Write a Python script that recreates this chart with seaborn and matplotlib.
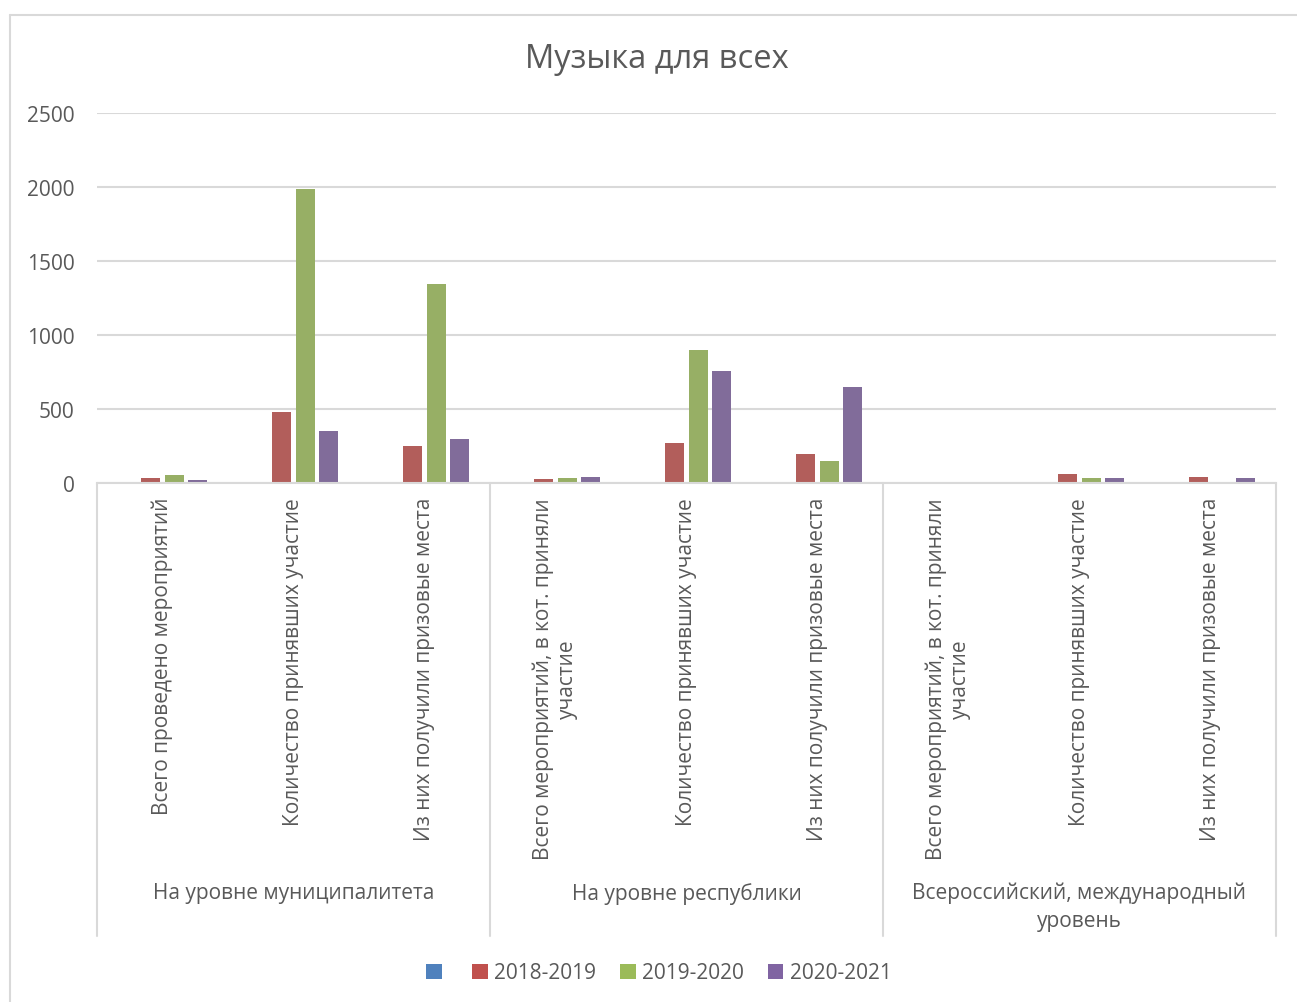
import pandas as pd
import seaborn as sns
import matplotlib.pyplot as plt
from matplotlib.patches import Patch
from matplotlib.lines import Line2D
from matplotlib import transforms

# data
categories = [
    "Всего проведено мероприятий",
    "Количество принявших участие",
    "Из них получили призовые места",
    "Всего мероприятий, в кот. приняли\nучастие",
    "Количество принявших участие",
    "Из них получили призовые места",
    "Всего мероприятий, в кот. приняли\nучастие",
    "Количество принявших участие",
    "Из них получили призовые места",
]
groups = ["На уровне муниципалитета", "На уровне республики",
          "Всероссийский, международный\nуровень"]
series = ["", "2018-2019", "2019-2020", "2020-2021"]
colors = ["#4F81BD", "#C0504D", "#9BBB59", "#8064A2"]

blank = [0, 0, 0, 0, 0, 0, 0, 0, 0]
v_2018 = [32, 482, 252, 28, 268, 198, 2, 60, 41]
v_2019 = [56, 1988, 1345, 32, 902, 148, 0, 37, 1]
v_2020 = [22, 349, 300, 43, 760, 652, 8, 37, 32]

rows = []
for s, vals in zip(series, [blank, v_2018, v_2019, v_2020]):
    for i, v in enumerate(vals):
        rows.append({"pos": i, "series": s if s else "blank", "value": v})
df = pd.DataFrame(rows)
hue_names = [s if s else "blank" for s in series]

sns.set_theme(style="white")
plt.rcParams["font.family"] = ["Open Sans", "DejaVu Sans"]
txt = "#595959"
grid = "#d9d9d9"

fig = plt.figure(figsize=(12.97, 10.03), dpi=100)
ax = fig.add_axes([97 / 1297, 1 - 484 / 1003, (1276 - 97) / 1297, (484 - 114) / 1003])

sns.barplot(data=df, x="pos", y="value", hue="series", hue_order=hue_names,
            palette=colors, width=0.72, gap=0.19, linewidth=0,
            legend=False, ax=ax)

ax.set_ylim(0, 2500)
ax.set_xlim(-0.5, 8.5)
ax.set_yticks([0, 500, 1000, 1500, 2000, 2500])
ax.yaxis.grid(True, color=grid, linewidth=1.5)
ax.set_axisbelow(True)
for side in ["top", "right", "left"]:
    ax.spines[side].set_visible(False)
ax.spines["bottom"].set_color(grid)
ax.spines["bottom"].set_linewidth(1.5)
ax.set_xlabel("")
ax.set_ylabel("")
ax.tick_params(axis="y", length=0, labelsize=15, labelcolor=txt, pad=16)
ax.tick_params(axis="x", length=0, pad=10)
ax.set_xticks(range(len(categories)))
ax.set_xticklabels(categories, rotation=90, fontsize=15, color=txt,
                   va="top", ha="center", multialignment="center")

# group separators and group labels
tr = transforms.blended_transform_factory(ax.transData, fig.transFigure)
y_bot = 1 - 937 / 1003
y_ax = 1 - 484 / 1003
for x in [-0.5, 2.5, 5.5, 8.5]:
    ax.add_line(Line2D([x, x], [y_ax, y_bot], transform=tr, color=grid,
                       linewidth=1.5, clip_on=False))
for gi, g in enumerate(groups):
    ax.text(gi * 3 + 1, 1 - 883 / 1003, g, transform=tr, ha="center", va="top",
            fontsize=15, color=txt, multialignment="center", linespacing=1.4)

fig.text(657 / 1297, 1 - 60 / 1003, "Музыка для всех", fontsize=23.5,
         color=txt, ha="center", va="center")

handles = [Patch(facecolor=c, edgecolor="none") for c in colors]
fig.legend(handles, series, loc="center", bbox_to_anchor=(0.508, 1 - 974 / 1003),
           ncol=4, frameon=False, fontsize=15, labelcolor=txt,
           handlelength=0.75, handleheight=0.75, handletextpad=0.3,
           columnspacing=1.15)

# chart border
fig.add_artist(Line2D([9.5 / 1297, 9.5 / 1297], [0, 1 - 15.5 / 1003],
                      transform=fig.transFigure, color=grid, linewidth=1.5))
fig.add_artist(Line2D([9.5 / 1297, 1], [1 - 15.5 / 1003, 1 - 15.5 / 1003],
                      transform=fig.transFigure, color=grid, linewidth=1.5))

fig.savefig("out.png", dpi=100)
plt.close(fig)
